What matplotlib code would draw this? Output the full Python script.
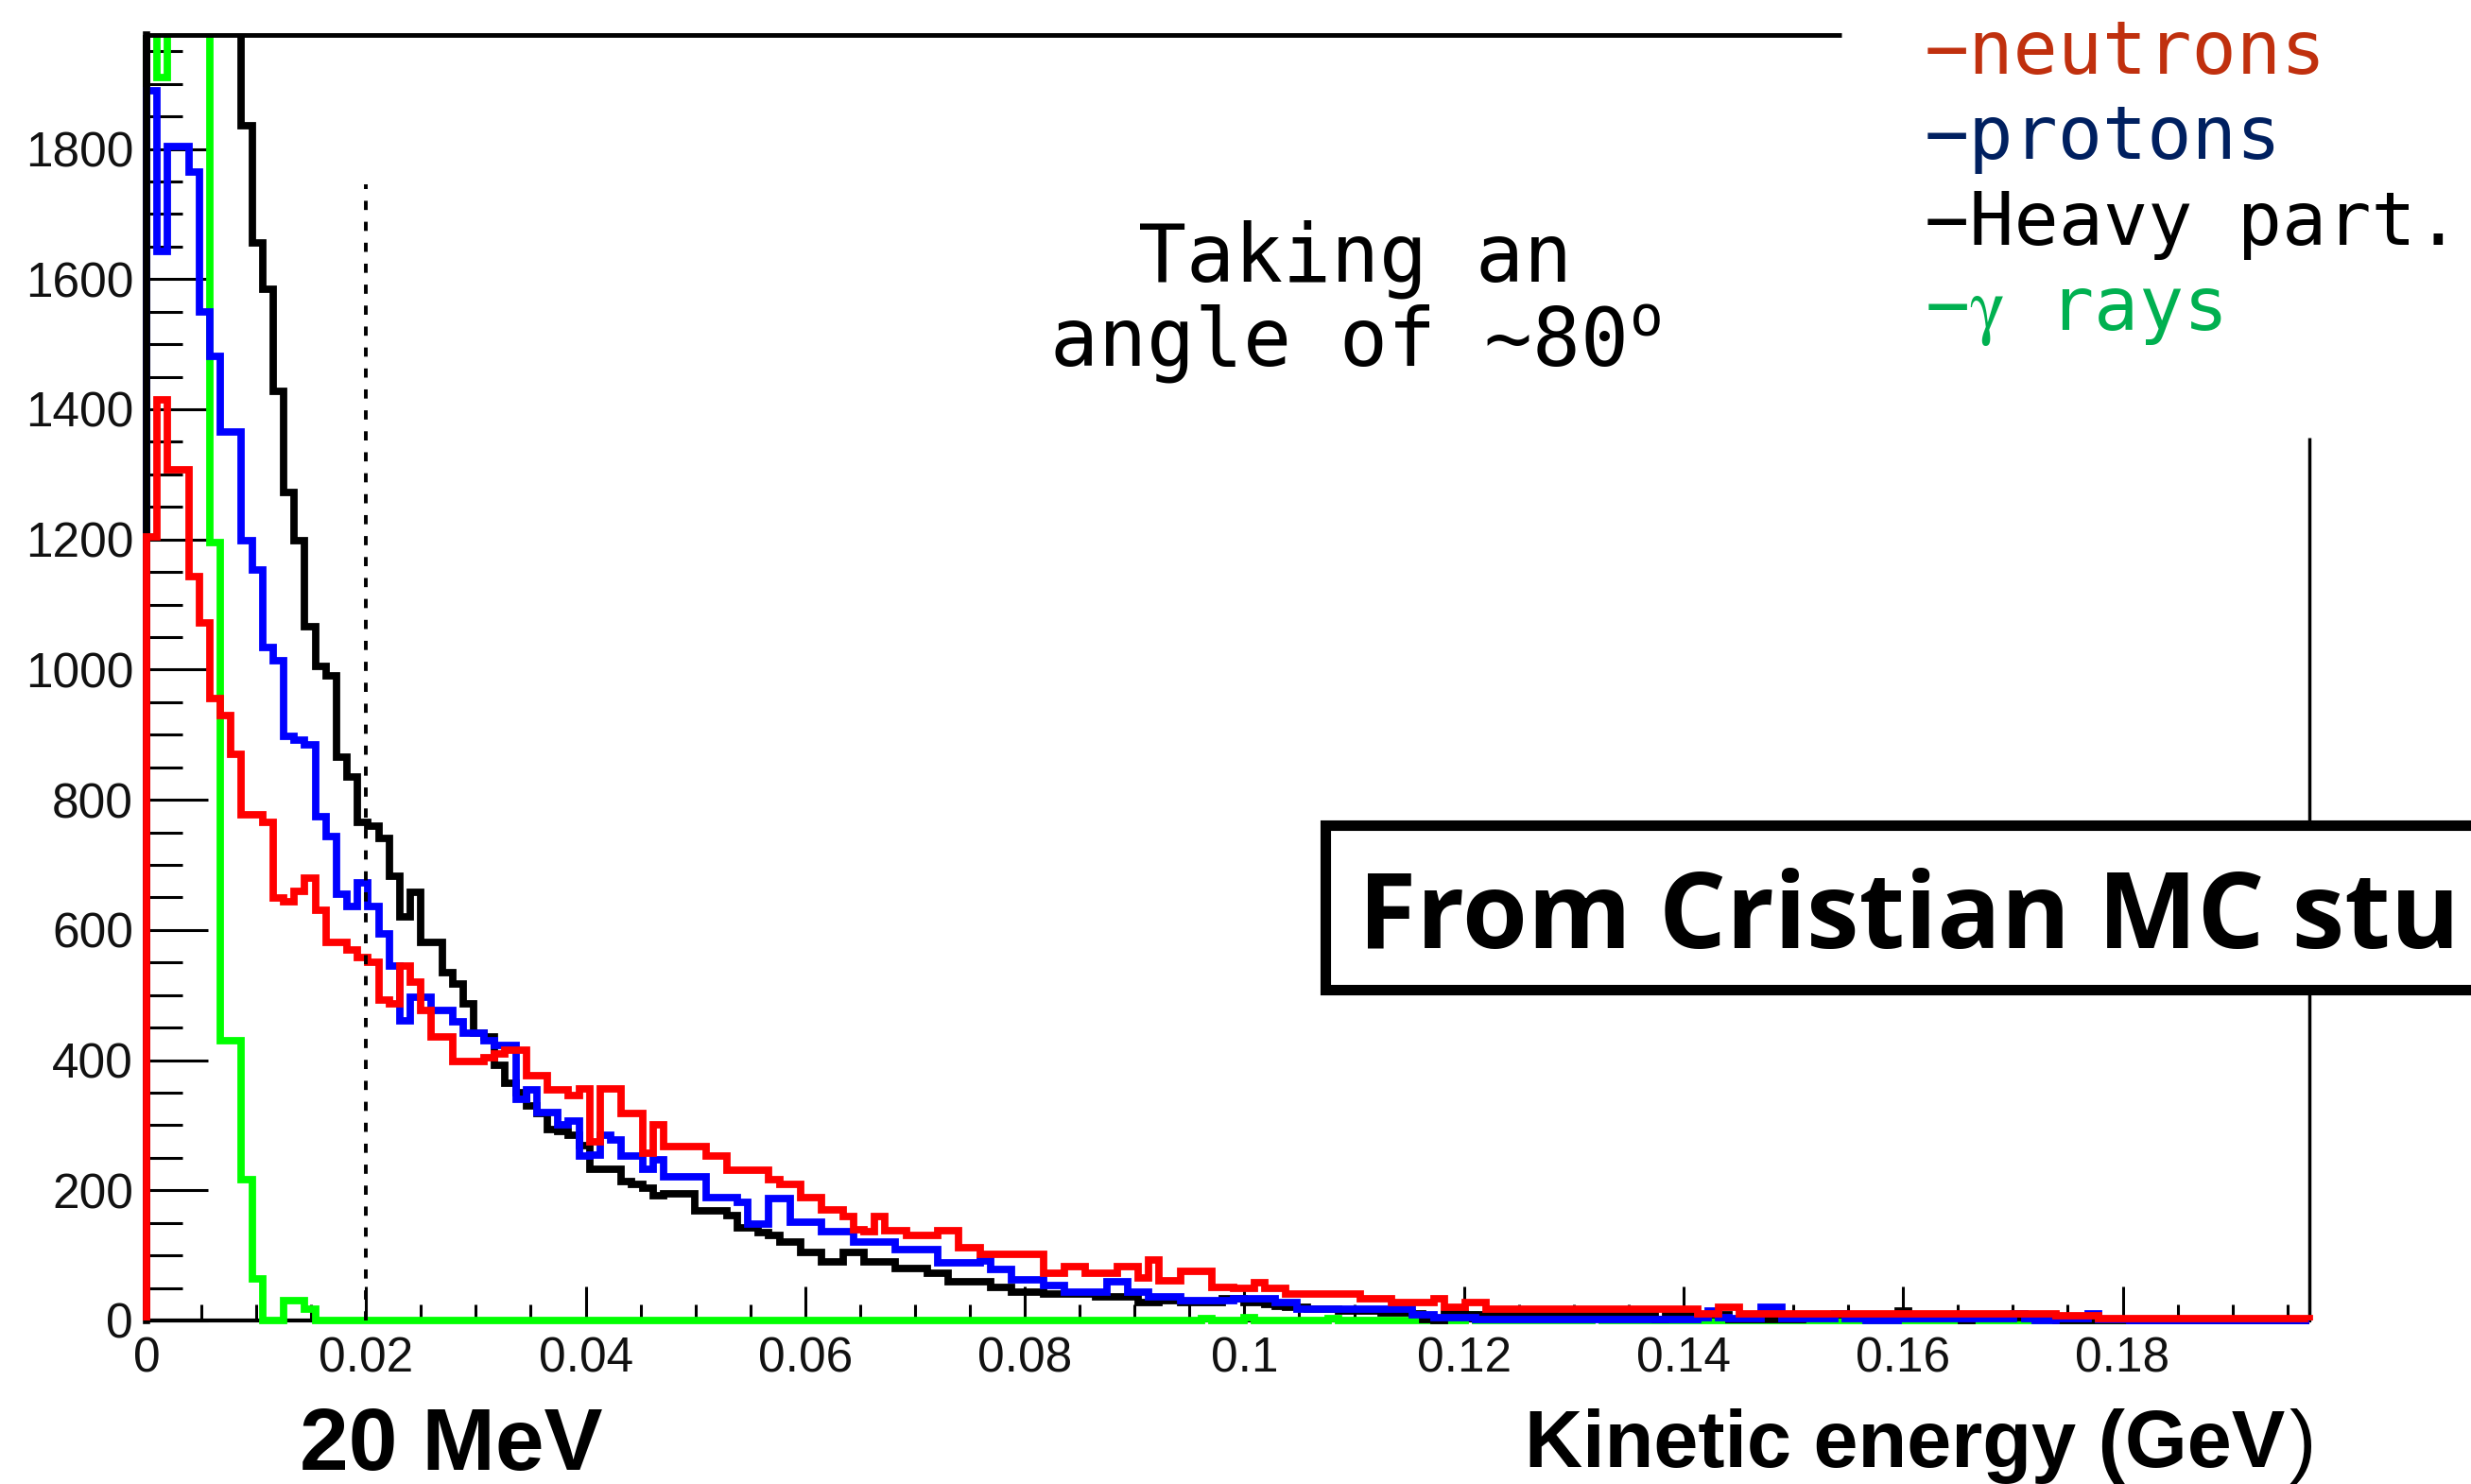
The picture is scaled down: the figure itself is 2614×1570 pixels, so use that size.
import numpy as np
import matplotlib
matplotlib.use("Agg")
import matplotlib.pyplot as plt
from matplotlib.patches import Rectangle
from matplotlib.ticker import FixedLocator, FixedFormatter, MultipleLocator

plt.rcParams['font.family'] = ['Liberation Sans', 'DejaVu Sans']

X_MAX = 0.197
N_BINS = 205
Y_MAX = 1975

# counts per bin (values above Y_MAX are off-scale)
neutrons = [1204, 1414, 1307, 1307, 1143, 1072, 956, 930, 870, 777,
            777, 765, 649, 643, 660, 679, 630, 581, 581, 569,
            557, 551, 493, 487, 545, 520, 477, 435, 435, 398,
            398, 398, 404, 410, 416, 416, 376, 376, 355, 355,
            346, 356, 274, 356, 356, 318, 318, 257, 300, 267,
            267, 267, 267, 252, 252, 231, 231, 231, 231, 216,
            209, 209, 189, 189, 170, 170, 160, 140, 137, 160,
            138, 138, 131, 131, 131, 138, 138, 112, 112, 102,
            102, 102, 102, 102, 102, 73, 73, 83, 83, 73,
            73, 73, 83, 83, 65, 93, 61, 61, 75, 75,
            75, 51, 51, 49, 49, 58, 49, 49, 41, 41,
            41, 41, 41, 41, 41, 34, 34, 34, 27, 27,
            27, 27, 34, 20, 20, 27, 27, 17, 17, 17,
            17, 17, 17, 17, 17, 17, 17, 17, 17, 17,
            17, 17, 17, 17, 17, 17, 17, 10, 10, 20,
            20, 10, 10, 10, 10, 10, 10, 10, 10, 10,
            10, 10, 10, 10, 10, 10, 10, 10, 10, 10,
            10, 10, 10, 10, 10, 10, 10, 10, 10, 10,
            10, 7, 7, 7, 7, 3, 3, 3, 3, 3,
            3, 3, 3, 3, 3, 3, 3, 3, 3, 3,
            3, 3, 3, 3, 3]

protons = [1890, 1642, 1803, 1803, 1765, 1549, 1481, 1365, 1365, 1198,
           1153, 1034, 1014, 898, 892, 884, 774, 744, 655, 636,
           673, 636, 594, 545, 460, 496, 496, 477, 477, 459,
           441, 441, 430, 422, 422, 340, 355, 320, 320, 301,
           306, 252, 254, 284, 278, 252, 252, 233, 247, 221,
           221, 221, 221, 189, 189, 189, 182, 148, 148, 187,
           187, 151, 151, 151, 136, 136, 136, 121, 121, 121,
           121, 109, 109, 109, 109, 88, 88, 88, 88, 92,
           78, 78, 63, 63, 63, 54, 54, 44, 44, 44,
           44, 59, 59, 44, 44, 37, 37, 37, 30, 30,
           30, 30, 30, 34, 34, 34, 34, 27, 27, 17,
           17, 17, 17, 17, 17, 17, 17, 17, 17, 17,
           8, 8, 5, 5, 5, 5, 2, 2, 2, 2,
           2, 2, 2, 2, 2, 2, 2, 2, 2, 2,
           2, 2, 2, 2, 2, 2, 2, 5, 15, 5,
           3, 3, 3, 20, 20, 3, 3, 3, 3, 3,
           10, 3, 3, 0, 0, 0, 3, 3, 3, 3,
           3, 3, 3, 3, 3, 3, 3, 10, 3, 0,
           0, 3, 3, 3, 10, 2, 2, 2, 0, 0,
           0, 0, 0, 0, 0, 0, 0, 0, 0, 0,
           0, 0, 0, 0, 0]

heavy = [4100, 3800, 3500, 3100, 2900, 2600, 2400, 2200, 2050, 1835,
         1655, 1584, 1427, 1272, 1198, 1066, 1005, 990, 866, 835,
         765, 759, 741, 682, 620, 658, 581, 581, 535, 517,
         487, 441, 435, 392, 364, 350, 330, 318, 294, 290,
         285, 269, 233, 233, 233, 214, 209, 204, 192, 194,
         194, 194, 168, 168, 168, 161, 143, 143, 135, 131,
         121, 121, 104, 104, 90, 90, 104, 104, 90, 90,
         90, 80, 80, 80, 73, 73, 59, 59, 59, 59,
         51, 51, 44, 44, 44, 40, 40, 40, 40, 40,
         37, 37, 37, 37, 27, 27, 31, 31, 28, 28,
         28, 28, 34, 34, 28, 28, 25, 22, 20, 20,
         18, 18, 18, 15, 15, 15, 15, 12, 12, 12,
         10, 2, 0, 10, 10, 8, 8, 8, 8, 8,
         8, 8, 8, 8, 8, 8, 8, 8, 8, 8,
         8, 8, 8, 2, 8, 8, 8, 8, 8, 8,
         2, 2, 2, 2, 2, 2, 2, 8, 8, 8,
         8, 8, 8, 8, 8, 8, 15, 5, 5, 5,
         5, 5, 0, 5, 5, 5, 5, 5, 5, 5,
         5, 0, 0, 0, 0, 0, 0, 0, 0, 0,
         0, 0, 0, 0, 0, 0, 0, 0, 0, 0,
         0, 0, 0, 0, 0]

gammas = [2600, 1909, 2800, 3200, 3000, 2400, 1195, 430, 430, 216,
          64, 0, 0, 30, 30, 18, 0, 0, 0, 0,
          0, 0, 0, 0, 0, 0, 0, 0, 0, 0,
          0, 0, 0, 0, 0, 0, 0, 0, 0, 0,
          0, 0, 0, 0, 0, 0, 0, 0, 0, 0,
          0, 0, 0, 0, 0, 0, 0, 0, 0, 0,
          0, 0, 0, 0, 0, 0, 0, 0, 0, 0,
          0, 0, 0, 0, 0, 0, 0, 0, 0, 0,
          0, 0, 0, 0, 0, 0, 0, 0, 0, 0,
          0, 0, 0, 0, 0, 0, 0, 0, 0, 0,
          3, 0, 0, 0, 5, 0, 0, 0, 0, 0,
          0, 0, 3, 0, 0, 0, 0, 0, 0, 0,
          0, 0, 0, 0, 0, 8, 0, 0, 0, 0,
          0, 0, 0, 0, 0, 0, 0, 5, 0, 0,
          0, 0, 0, 0, 0, 0, 0, 0, 0, 0,
          0, 0, 0, 0, 0, 0, 0, 0, 0, 0,
          0, 0, 0, 0, 0, 0, 0, 0, 0, 0,
          0, 0, 0, 0, 0, 0, 0, 0, 0, 0,
          0, 0, 0, 0, 0, 0, 0, 0, 0, 0,
          0, 0, 0, 0, 0, 0, 0, 0, 0, 0,
          0, 0, 0, 0, 0]

x_ticks = [0, 0.02, 0.04, 0.06, 0.08, 0.1, 0.12, 0.14, 0.16, 0.18]
x_tick_labels = ['0', '0.02', '0.04', '0.06', '0.08', '0.1', '0.12', '0.14', '0.16', '0.18']

legend_labels = ['\u2212neutrons', '\u2212protons', '\u2212Heavy part.',
                 '\u2212$\\mathrm{\\gamma}$ rays']
legend_colors = ['#C0300E', '#002060', '#000000', '#00B050']

# frame pieces that stay visible on the slide, plus the 20 MeV cut line
TOP_FRAME_END = 0.1544
RIGHT_FRAME_TOP = 1357
CUT_X = 0.02
CUT_TOP = 1746

W, H = 2614, 1570


def fx(px):
    return px / W


def fy(py):
    return 1 - py / H


fig = plt.figure(figsize=(W / 100, H / 100), dpi=100)
ax = fig.add_axes([fx(155), fy(1397), (2443 - 155) / W, (1397 - 37) / H])
ax.set_xlim(0, X_MAX)
ax.set_ylim(0, Y_MAX)

bin_w = X_MAX / N_BINS
clip = Rectangle((-0.01, -0.02), 1.02, 1.02, transform=ax.transAxes)

# draw order: gamma, heavy, protons, neutrons (red on top)
series = [(gammas, '#00FF00', 2.0), (heavy, '#000000', 2.05),
          (protons, '#0000FF', 2.1), (neutrons, '#FF0000', 2.2)]
for vals, col, z in series:
    edges = np.arange(len(vals) + 1) * bin_w
    st = ax.stairs(vals, edges, baseline=0, color=col, lw=5.6, zorder=z)
    st.set_clip_path(clip)

ax.plot([CUT_X, CUT_X], [0, CUT_TOP], color='black', lw=2.8,
        ls=(0, (2.5, 3.2)), zorder=2.4)

ax.spines['top'].set_visible(False)
ax.spines['right'].set_visible(False)
ax.spines['left'].set_linewidth(5.5)
ax.spines['left'].set_zorder(2.15)
ax.spines['bottom'].set_linewidth(3)
ax.spines['bottom'].set_zorder(1.9)
ax.plot([0, TOP_FRAME_END], [Y_MAX, Y_MAX], color='black', lw=3.5,
        clip_on=False, solid_capstyle='butt')
ax.plot([X_MAX, X_MAX], [0, RIGHT_FRAME_TOP], color='black', lw=2.5,
        clip_on=False, solid_capstyle='butt')

ax.xaxis.set_major_locator(FixedLocator(x_ticks))
ax.xaxis.set_major_formatter(FixedFormatter(x_tick_labels))
ax.xaxis.set_minor_locator(MultipleLocator(0.005))
ax.yaxis.set_major_locator(MultipleLocator(200))
ax.yaxis.set_minor_locator(MultipleLocator(50))
ax.set_yticks(np.arange(0, 1801, 200))

lab_col = '#111111'
ax.tick_params(axis='y', which='major', direction='in', length=47, width=2.2,
               pad=10, labelsize=37, labelcolor=lab_col)
ax.tick_params(axis='y', which='minor', direction='in', length=27, width=2.2)
ax.tick_params(axis='x', which='major', direction='in', length=26, width=2.2,
               pad=12, labelsize=37, labelcolor=lab_col)
ax.tick_params(axis='x', which='minor', direction='in', length=12, width=2.2)

# annotation text
mono = 'DejaVu Sans Mono'
fig.text(fx(1433), fy(297), 'Taking an', ha='center', va='baseline',
         family=mono, fontsize=61)
fig.text(fx(1433), fy(387), 'angle of ~80$^{\\mathtt{o}}$', ha='center',
         va='baseline', family=mono, fontsize=61, math_fontfamily='dejavusans')

for i, (lab, col) in enumerate(zip(legend_labels, legend_colors)):
    fig.text(fx(2036), fy(78 + 90.5 * i), lab, ha='left', va='baseline',
             family=mono, fontsize=56.5, color=col, math_fontfamily='stix')

fig.text(fx(317), fy(1555), '20 MeV', ha='left', va='baseline',
         fontsize=67, fontweight='bold')
fig.text(fx(2417), fy(1552), 'Kinetic energy (GeV', ha='right', va='baseline',
         fontsize=61, fontweight='bold')
fig.text(fx(2421), fy(1552), ')', ha='left', va='baseline', fontsize=61)

box = Rectangle((fx(1402), fy(1047)), 0.6, (1047 - 873) / H,
                transform=fig.transFigure, facecolor='white', edgecolor='black',
                lw=8, zorder=10)
fig.add_artist(box)
fig.text(fx(1437), fy(1003), 'From Cristian MC stu', ha='left',
         va='baseline', family='Open Sans', fontweight='bold', fontsize=80.5,
         zorder=11)

fig.savefig('out.png', dpi=100)
